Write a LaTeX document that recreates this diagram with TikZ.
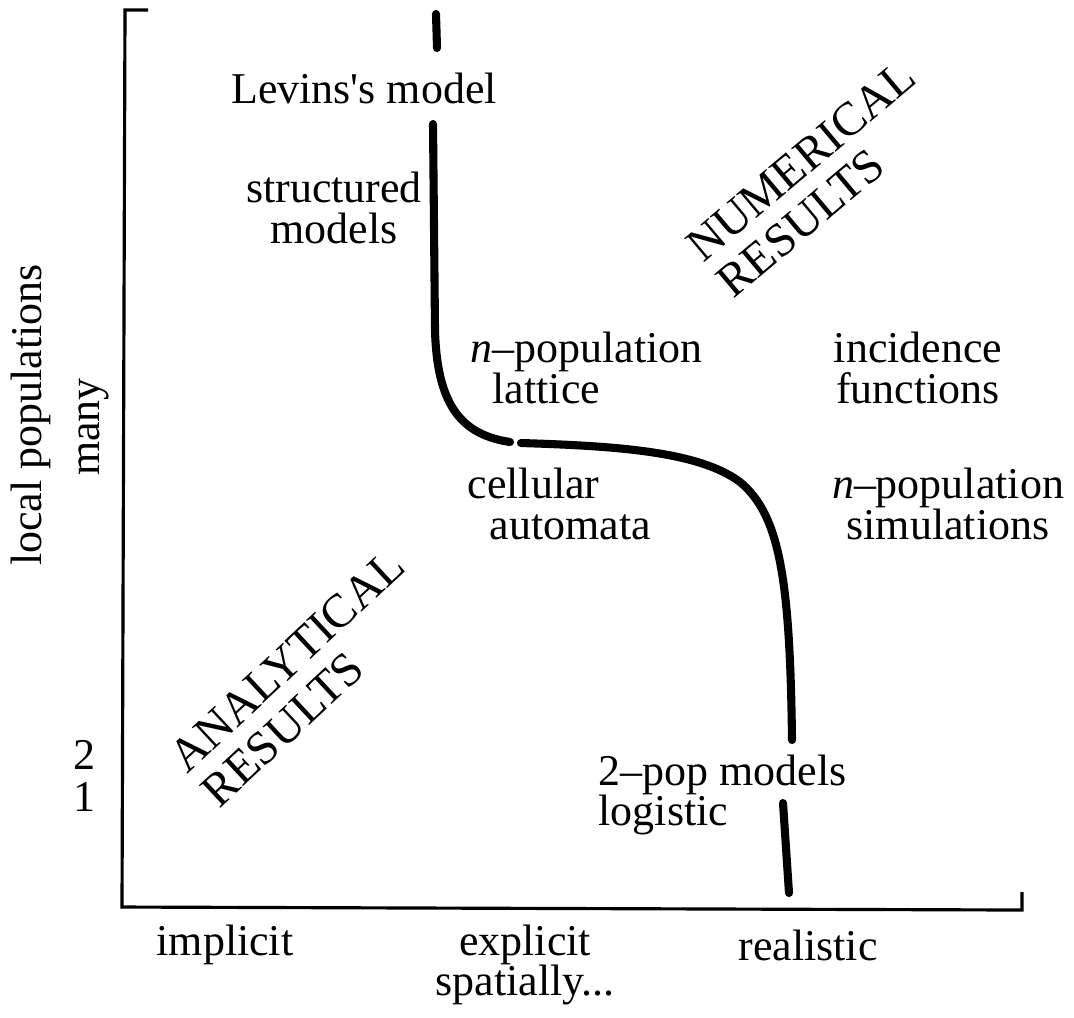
\documentclass[tikz,border=0pt]{standalone}
\usepackage{fontspec}
\setmainfont{Liberation Serif}[Ligatures=TeXOff]
\usepackage{tikz}

\begin{document}
\begin{tikzpicture}[x=0.01cm, y=-0.01cm,
        txt/.style = {font=\fontsize{12.5}{11.5}\selectfont, inner sep=0pt},
        big/.style = {font=\fontsize{13.5}{13.5}\selectfont, inner sep=0pt, align=left, anchor=base west},
        curve/.style = {line width=2.3pt, line cap=round},
        axis/.style = {line width=0.9pt}]
        \useasboundingbox (0,0) rectangle (1074,1017);
        % axes
        \draw[axis] (148,10) -- (125,10) -- (122,907) -- (1022,910) -- (1022,892);
        % axis labels
        \node[txt, rotate=90] (local) at (31,415) {local populations};
        \node[txt, rotate=90] (many) at (94,427) {many};
        \node[txt] (two) at (84,755) {2};
        \node[txt] (one) at (84,797) {1};
        \node[txt] (implicit) at (225,945) {implicit};
        \node[txt, align=center] (explicit) at (525,965) {explicit\\spatially...};
        \node[txt] (realistic) at (808,945) {realistic};
        % regions
        \node[big, rotate=40] (numerical) at (733,300) {NUMERICAL\\RESULTS};
        \node[big, rotate=43] (analytical) at (219,810) {ANALYTICAL\\RESULTS};
        % models
        \node[txt] (levins) at (364,88) {Levins's model};
        \node[txt, align=center] (structured) at (334,208) {structured\\models};
        \node[txt, align=left, anchor=west] (lattice) at (470,368) {\textit{n}–population\\\hspace{0.5em}lattice};
        \node[txt, align=left, anchor=west] (cellular) at (467,504) {cellular\\\hspace{0.5em}automata};
        \node[txt, align=center] (incidence) at (918,368) {incidence\\functions};
        \node[txt, align=center] (simulations) at (948,504) {\textit{n}–population\\simulations};
        \node[txt, align=left, anchor=west] (twopop) at (598,795) {2–pop models\\logistic};
        % dividing curve
        \draw[curve] (436,14) -- (437,48);
        \draw[curve] (433,124) -- (435,330) .. controls (437,410) and (465,435) .. (510,442);
        \draw[curve] (521,443) .. controls (620,446) and (700,452) .. (740,482)
                .. controls (780,515) and (790,580) .. (792,740);
        \draw[curve] (783,803) -- (789,893);
    \end{tikzpicture}
\end{document}
